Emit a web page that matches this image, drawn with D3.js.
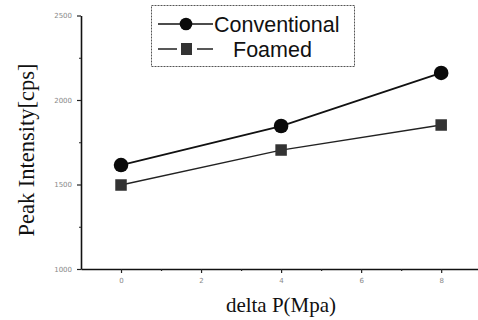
<!DOCTYPE html>
<html>
<head>
<meta charset="utf-8">
<script src="https://cdn.jsdelivr.net/npm/d3@7"></script>
<style>
  body { margin: 0; background: #fff; }
  svg { display: block; }
</style>
</head>
<body>
<div id="chart"></div>
<script>
// Peak intensity vs pressure drop, two series
const pressure = [0, 4, 8]
const conventional = [1615, 1846, 2160]
const foamed = [1497, 1704, 1852]
const yTicks = [1000, 1500, 2000, 2500]
const yMinor = [1250, 1750, 2250]
const xTicks = [0, 2, 4, 6, 8]
const xMinor = [1, 3, 5, 7]
const seriesNames = ['Conventional', 'Foamed']

const width = 478
const height = 320
const margin = { top: 15.5, right: 0, bottom: 51, left: 81 }

const svg = d3.select('#chart')
  .append('svg')
  .attr('width', width)
  .attr('height', height)

const x = d3.scaleLinear()
  .domain([-1, 8.92])
  .range([margin.left, width - margin.right])

const y = d3.scaleLinear()
  .domain([1000, 2500])
  .range([height - margin.bottom, margin.top])

// Axes: major ticks with labels, minor ticks in between
const xAxis = svg.append('g')
  .attr('transform', `translate(0,${height - margin.bottom})`)
  .call(d3.axisBottom(x).tickValues(xTicks).tickFormat(d3.format('d')).tickSize(4).tickPadding(5).tickSizeOuter(0))
xAxis.append('g')
  .call(d3.axisBottom(x).tickValues(xMinor).tickSize(2).tickFormat('').tickSizeOuter(0))
  .select('.domain').remove()

const yAxis = svg.append('g')
  .attr('transform', `translate(${margin.left},0)`)
  .call(d3.axisLeft(y).tickValues(yTicks).tickFormat(d3.format('d')).tickSize(4).tickPadding(5).tickSizeOuter(0))
yAxis.append('g')
  .call(d3.axisLeft(y).tickValues(yMinor).tickSize(2).tickFormat('').tickSizeOuter(0))
  .select('.domain').remove()

svg.selectAll('.domain').attr('stroke', '#111').attr('stroke-width', 1.6)
svg.selectAll('.tick line').attr('stroke', '#222').attr('stroke-width', 1.2)
svg.selectAll('.tick text')
  .attr('fill', '#888')
  .attr('font-size', '7px')
  .attr('font-family', 'DejaVu Sans')

// Axis titles
svg.append('text')
  .attr('x', 281)
  .attr('y', 312)
  .attr('text-anchor', 'middle')
  .attr('font-family', 'Liberation Serif')
  .attr('font-size', '21px')
  .attr('fill', '#111')
  .text('delta P(Mpa)')

svg.append('text')
  .attr('transform', 'translate(34,150) rotate(-90)')
  .attr('text-anchor', 'middle')
  .attr('font-family', 'Liberation Serif')
  .attr('font-size', '22.5px')
  .attr('fill', '#111')
  .text('Peak Intensity[cps]')

// Series lines
const line = d3.line()
  .x(d => x(d[0]))
  .y(d => y(d[1]))

svg.append('path')
  .datum(d3.zip(pressure, conventional))
  .attr('d', line)
  .attr('fill', 'none')
  .attr('stroke', '#111')
  .attr('stroke-width', 1.8)

svg.append('path')
  .datum(d3.zip(pressure, foamed))
  .attr('d', line)
  .attr('fill', 'none')
  .attr('stroke', '#222')
  .attr('stroke-width', 1.3)

// Markers
svg.selectAll('.pt-conv')
  .data(d3.zip(pressure, conventional))
  .join('circle')
  .attr('class', 'pt-conv')
  .attr('cx', d => x(d[0]))
  .attr('cy', d => y(d[1]))
  .attr('r', 7.3)
  .attr('fill', '#0a0a0a')

const sq = 11.5
svg.selectAll('.pt-foam')
  .data(d3.zip(pressure, foamed))
  .join('rect')
  .attr('class', 'pt-foam')
  .attr('x', d => x(d[0]) - sq / 2)
  .attr('y', d => y(d[1]) - sq / 2)
  .attr('width', sq)
  .attr('height', sq)
  .attr('fill', '#333')

// Legend
const legend = svg.append('g')
legend.append('rect')
  .attr('x', 151.5)
  .attr('y', 5.5)
  .attr('width', 203)
  .attr('height', 61)
  .attr('fill', '#fff')
  .attr('stroke', '#555')
  .attr('stroke-width', 1)
  .attr('stroke-dasharray', '2,1')

const rowY = [24, 49]
legend.append('line')
  .attr('x1', 158).attr('x2', 213)
  .attr('y1', rowY[0]).attr('y2', rowY[0])
  .attr('stroke', '#111').attr('stroke-width', 1.6)
legend.append('circle')
  .attr('cx', 186).attr('cy', rowY[0]).attr('r', 6.3)
  .attr('fill', '#0a0a0a')
legend.append('line')
  .attr('x1', 158).attr('x2', 177)
  .attr('y1', rowY[1]).attr('y2', rowY[1])
  .attr('stroke', '#111').attr('stroke-width', 1.4)
legend.append('line')
  .attr('x1', 197).attr('x2', 213)
  .attr('y1', rowY[1]).attr('y2', rowY[1])
  .attr('stroke', '#111').attr('stroke-width', 1.4)
legend.append('rect')
  .attr('x', 181).attr('y', rowY[1] - 6)
  .attr('width', 11).attr('height', 12)
  .attr('fill', '#333')

legend.selectAll('.lg-text')
  .data(seriesNames)
  .join('text')
  .attr('class', 'lg-text')
  .attr('x', (d, i) => i === 0 ? 214 : 233)
  .attr('y', (d, i) => rowY[i] + 8)
  .attr('font-family', 'Liberation Sans')
  .attr('font-size', '21.5px')
  .attr('fill', '#111')
  .text(d => d)
</script>
</body>
</html>
